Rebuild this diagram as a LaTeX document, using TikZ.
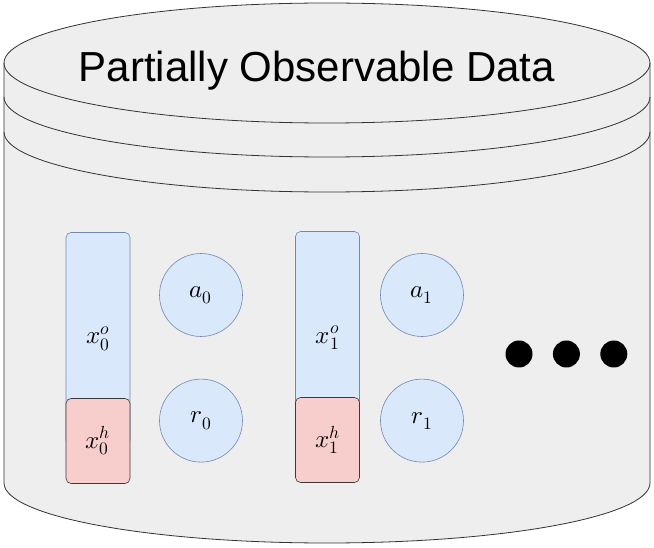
\documentclass[tikz,border=0pt]{standalone}
\usepackage{fontspec}
\setmainfont{Liberation Sans}
\usepackage{unicode-math}
\setmathfont{Latin Modern Math}
\usetikzlibrary{positioning}

\definecolor{dbfill}{HTML}{EEEEEE}
\definecolor{obsfill}{HTML}{DAE8FC}
\definecolor{obsline}{HTML}{7088B0}
\definecolor{hidfill}{HTML}{F8CECC}
\definecolor{hidline}{HTML}{3A3A3A}

\tikzset{
  obs/.style={
    rectangle, rounded corners=5pt, draw=obsline, fill=obsfill, semithick,
    minimum width=64pt, minimum height=213pt, inner sep=0pt,
    font=\fontsize{25}{30}\selectfont},
  hid/.style={
    rectangle, rounded corners=5pt, draw=hidline, fill=hidfill, semithick,
    minimum width=64pt, minimum height=85pt, inner sep=0pt,
    font=\fontsize{25}{30}\selectfont},
  var/.style={
    circle, draw=obsline, fill=obsfill, semithick, minimum size=83pt,
    inner sep=0pt, font=\fontsize{25}{30}\selectfont},
  dot/.style={circle, fill=black, minimum size=27pt, inner sep=0pt},
  titulo/.style={font=\fontsize{42}{48}\selectfont}
}

\begin{document}
\begin{tikzpicture}[x=1pt,y=1pt]
\useasboundingbox (0,0) rectangle (654,547);

% data store
\fill[dbfill] (4,484) -- (4,64) arc[start angle=180,end angle=360,
  x radius=323,y radius=60] -- (650,484) arc[start angle=0,end angle=180,
  x radius=323,y radius=60] -- cycle;
\draw[thick,black!80] (4,484) -- (4,64) arc[start angle=180,end angle=360,
  x radius=323,y radius=60] -- (650,484);
\draw[thick,black!80] (327,484) ellipse[x radius=323,y radius=60];
\draw[thick,black!80] (4,450) arc[start angle=180,end angle=360,
  x radius=323,y radius=60];
\draw[thick,black!80] (4,415) arc[start angle=180,end angle=360,
  x radius=323,y radius=60];

\node[titulo] (title) at (317,476) {Partially Observable Data};

% step 0
\node[obs] (xo0) at (98,208) {$x_0^o$};
\node[hid] (xh0) at (98,106) {$x_0^h$};
\node[var] (a0) at (201,252) {$a_0$};
\node[var, below=42pt of a0] (r0) {$r_0$};

% step 1
\node[obs] (xo1) at (327.5,209) {$x_1^o$};
\node[hid] (xh1) at (327.5,107) {$x_1^h$};
\node[var] (a1) at (422,252) {$a_1$};
\node[var, below=42pt of a1] (r1) {$r_1$};

% ...
\node[dot] (d1) at (519,193) {};
\node[dot, right=20pt of d1] (d2) {};
\node[dot, right=20pt of d2] (d3) {};

\end{tikzpicture}
\end{document}
